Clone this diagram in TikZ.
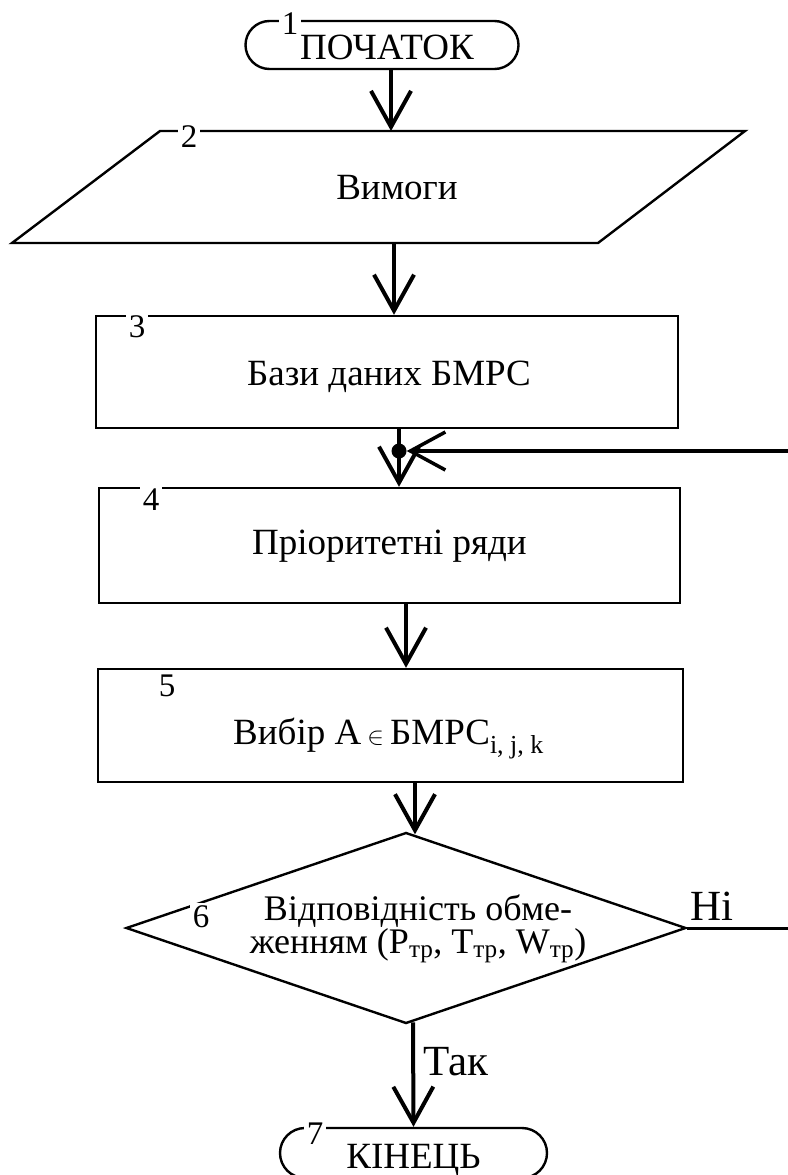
\documentclass[tikz,border=0pt]{standalone}
\usepackage{fontspec}
\setmainfont{Liberation Serif}
\usetikzlibrary{arrows.meta,shapes.geometric,shapes.misc}
\begin{document}
\begin{tikzpicture}[x=1pt,y=-1pt,
  shp/.style={draw, line width=2.4pt},
  blk/.style={shp, rectangle, inner sep=0pt},
  term/.style={shp, rounded rectangle, inner sep=0pt},
  txt/.style={font=\fontsize{37}{38}\selectfont, inner sep=0pt},
  numlbl/.style={fill=white, inner sep=3pt, font=\fontsize{33}{34}\selectfont},
  bigtxt/.style={font=\fontsize{43}{45}\selectfont, inner sep=0pt},
  arr/.style={line width=4pt, -{Straight Barb[length=36pt,width=40pt]}},
  fbline/.style={line width=3pt},
  fbarr/.style={line width=3.5pt, -{Straight Barb[length=35pt,width=38pt]}}
]
\useasboundingbox (0,0) rectangle (787,1175);

% 1 start
\node[term, minimum width=273pt, minimum height=48pt] (start) at (382,45) {};
\node[txt] (starttxt) at ([xshift=5pt,yshift=-2pt]start.center) {ПОЧАТОК};
\node[numlbl] (l1) at (290,24) {1};

% 2 parallelogram
\draw[shp] (160,131) -- (745,131) -- (598,243) -- (12,243) -- cycle;
\coordinate (reqT) at (391,131);
\coordinate (reqB) at (394,243);
\node[txt] (req) at (397,188) {Вимоги};
\node[numlbl] (l2) at (189,137) {2};

% 3
\node[blk, minimum width=582pt, minimum height=112pt] (r3) at (387,372) {};
\node[txt] (r3t) at ([xshift=2pt,yshift=-5pt]r3.center) {Бази даних БМРС};
\node[numlbl] (l3) at (137,327) {3};

% 4
\node[blk, minimum width=581pt, minimum height=115pt] (r4) at (389.5,545.5) {};
\node[txt] (r4t) at ([yshift=-1pt]r4.center) {Пріоритетні ряди};
\node[numlbl] (l4) at (151,500) {4};

% 5
\node[blk, minimum width=585pt, minimum height=113pt] (r5) at (390.5,725.5) {};
\node[txt] (r5t) at ([xshift=-2pt,yshift=-13pt]r5.center) {Вибір A\,$\in$\,БМРС\textsubscript{i, j, k}};
\node[numlbl] (l5) at (167,686) {5};

% 6 decision
\node[shp, diamond, inner sep=0pt, minimum width=560pt, minimum height=191pt] (dec) at (406,928) {};
\node[txt, align=center, font=\fontsize{36}{31}\selectfont] (dectxt) at (418,929)
  {Відповідність обме-\\женням (P\textsubscript{тр}, T\textsubscript{тр}, W\textsubscript{тр})};
\node[numlbl] (l6) at (201,917) {6};

% 7 end
\node[term, minimum width=267pt, minimum height=50pt] (end) at (413.5,1153) {};
\node[txt] (endtxt) at ([yshift=-7pt]end.center) {КІНЕЦЬ};
\node[numlbl] (l7) at (315,1134) {7};

% junction dot
\node[circle, fill, inner sep=0pt, minimum size=15pt] (dot) at (399,451) {};

% connectors
\draw[arr] ([xshift=9pt]start.south) -- (reqT);
\draw[arr] (reqB) -- ([xshift=7pt]r3.north);
\draw[arr] ([xshift=12pt]r3.south) -- ([xshift=9.5pt]r4.north);
\draw[arr] ([xshift=16.5pt]r4.south) -- ([xshift=15.5pt]r5.north);
\draw[arr] ([xshift=24.5pt]r5.south) -- ([xshift=9pt,yshift=-3pt]dec.north);
\draw[arr] ([xshift=7pt,yshift=2.4pt]dec.south) -- node[bigtxt, right=8pt, pos=0.38] (yes) {Так} (end.north);
\draw[fbline] (dec.east) -- node[bigtxt, above=6pt, pos=0.22] (no) {Ні} ++(112,0) coordinate (fbc) -- (fbc |- dot);
\draw[fbarr] (fbc |- dot) -- (dot);
\end{tikzpicture}
\end{document}
